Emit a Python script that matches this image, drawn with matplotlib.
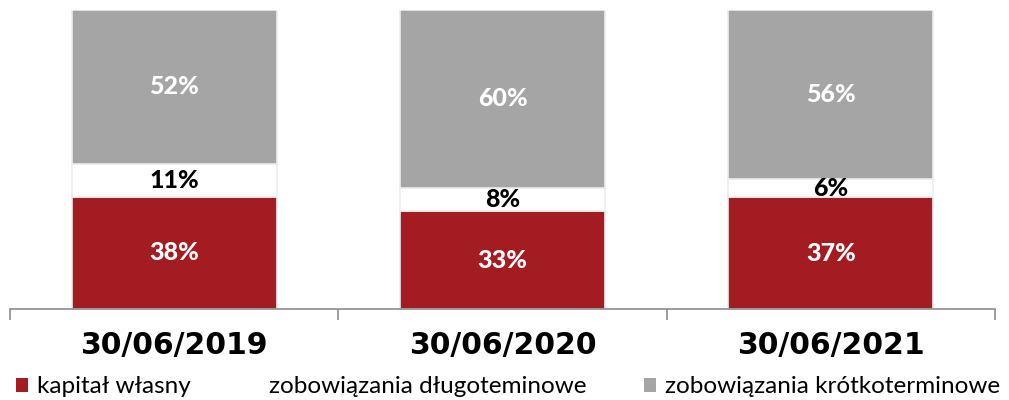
import numpy as np
import matplotlib.pyplot as plt
from matplotlib.patches import Patch

# data (percent of total)
dates = ['30/06/2019', '30/06/2020', '30/06/2021']
kapital = [38, 33, 37]
dlugo = [11, 8, 6]
krotko = [52, 60, 56]

names = ['kapitał własny', 'zobowiązania długoteminowe', 'zobowiązania krótkoterminowe']
colors = ['#a31c22', '#ffffff', '#a5a5a5']
txtcol = ['white', 'black', 'white']

series = np.array([kapital, dlugo, krotko], dtype=float)
share = series / series.sum(axis=0)   # 100% stacked, like the excel original

fig = plt.figure(figsize=(10.09, 4.0), dpi=100)
ax = fig.add_axes([10/1009, 1 - 309/400, 985/1009, 299/400])

x = np.arange(len(dates))
bottom = np.zeros(len(dates))
for i in range(3):
    bars = ax.bar(x, share[i], 0.625, bottom=bottom, color=colors[i],
                  edgecolor='#ececec', linewidth=1.2, zorder=2)
    for j, b in enumerate(bars):
        ax.text(b.get_x() + b.get_width()/2, bottom[j] + share[i][j]/2,
                '%d%%' % series[i][j], ha='center', va='center',
                color=txtcol[i], fontsize=18, fontweight='black', family='Lato', zorder=3)
    bottom += share[i]

ax.set_xlim(-0.5, 2.5)
ax.set_ylim(0, 1.0)
for s in ['top', 'right', 'left']:
    ax.spines[s].set_visible(False)
ax.spines['bottom'].set_color('#8c8c8c')
ax.spines['bottom'].set_linewidth(1.2)
ax.set_yticks([])

ax.set_xticks(x)
ax.set_xticklabels(dates, fontsize=21.5, fontweight='bold', family='DejaVu Sans')
ax.tick_params(axis='x', which='major', length=0, pad=16)
ax.set_xticks([-0.5, 0.5, 1.5, 2.5], minor=True)
ax.tick_params(axis='x', which='minor', length=8, width=1.2, color='#8c8c8c', direction='out')

handles = [Patch(facecolor=colors[i], edgecolor='none') for i in range(3)]
fig.legend(handles, names, loc='center left', bbox_to_anchor=(0.016, 0.033), ncol=3,
           frameon=False, prop={'family': 'Lato', 'size': 17.5},
           handlelength=0.5, handleheight=0.5, handletextpad=0.37, columnspacing=2.35,
           borderpad=0, borderaxespad=0)

fig.savefig('out.png', dpi=100)
